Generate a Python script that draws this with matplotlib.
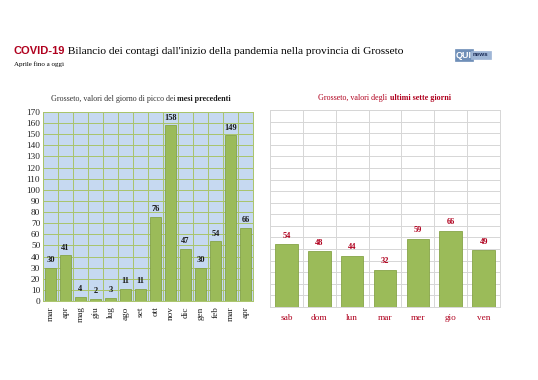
import numpy as np
import matplotlib
matplotlib.use("Agg")
import matplotlib.pyplot as plt

# ── data ─────────────────────────────────────────────────────────────────────
MONTHS = ["mar", "apr", "mag", "giu", "lug", "ago", "set", "ott", "nov",
          "dic", "gen", "feb", "mar", "apr"]
MONTH_PEAKS = [30, 41, 4, 2, 3, 11, 11, 76, 158, 47, 30, 54, 149, 66]

DAYS = ["sab", "dom", "lun", "mar", "mer", "gio", "ven"]
DAY_VALUES = [54, 48, 44, 32, 59, 66, 49]

Y_MAX = 170
Y_TICKS = list(range(0, 171, 10))

# ── styles ───────────────────────────────────────────────────────────────────
SERIF = ["Liberation Serif", "DejaVu Serif"]
SANS = ["Liberation Sans", "DejaVu Sans"]
BAR = "#9bbb59"
BAR_EDGE = "#86a447"
DARK_RED = "#b0001e"
PANEL_BLUE = "#c6d9f1"
GRID_GREEN = "#a9c46b"

plt.rcParams["font.family"] = SERIF

fig = plt.figure(figsize=(5.38, 3.8), dpi=100)
fig.patch.set_facecolor("white")

# ── left chart: monthly peaks ────────────────────────────────────────────────
axl = fig.add_axes([43 / 538, 1 - 301 / 380, 210 / 538, 189 / 380])
axl.set_facecolor(PANEL_BLUE)
x = np.arange(len(MONTHS))
axl.bar(x, MONTH_PEAKS, width=0.72, color=BAR, edgecolor=BAR_EDGE, linewidth=0.6, zorder=3)
for xi, v in zip(x, MONTH_PEAKS):
    axl.text(xi, v + 3, str(v), ha="center", va="bottom", fontsize=6,
             fontweight="bold", color="#1a1a1a", zorder=4)
axl.set_xlim(-0.5, len(MONTHS) - 0.5)
axl.set_ylim(0, Y_MAX)
axl.set_yticks(Y_TICKS)
axl.set_yticklabels([str(t) for t in Y_TICKS], fontsize=6.7, color="#222222")
axl.set_xticks(x)
axl.set_xticklabels(MONTHS, rotation=90, fontsize=6.7, color="#222222")
axl.set_xticks(np.arange(-0.5, len(MONTHS), 1), minor=True)
axl.grid(axis="y", color=GRID_GREEN, linewidth=0.7, zorder=0)
axl.grid(axis="x", which="minor", color=GRID_GREEN, linewidth=0.7, zorder=0)
axl.tick_params(axis="both", which="both", length=0, pad=2)
axl.tick_params(axis="x", pad=4)
for s in axl.spines.values():
    s.set_color(GRID_GREEN)
    s.set_linewidth(0.7)

tl = axl.text(0.64, 1.05, "Grosseto, valori del giorno di picco dei ", transform=axl.transAxes,
              ha="right", va="bottom", fontsize=5.8, color="#333333")
axl.annotate("mesi precedenti", xy=(1, 0), xycoords=tl, va="bottom", ha="left",
             fontsize=5.8, fontweight="bold", color="#1a1a1a", annotation_clip=False)

# ── right chart: last seven days ─────────────────────────────────────────────
axr = fig.add_axes([270 / 538, 1 - 307 / 380, 230 / 538, 197 / 380])
axr.set_facecolor("white")
xd = np.arange(len(DAYS))
axr.bar(xd, DAY_VALUES, width=0.69, color=BAR, edgecolor=BAR_EDGE, linewidth=0.6, zorder=3)
for xi, v in zip(xd, DAY_VALUES):
    axr.text(xi, v + 4, str(v), ha="center", va="bottom", fontsize=6,
             fontweight="bold", color=DARK_RED, zorder=4)
axr.set_xlim(-0.5, len(DAYS) - 0.5)
axr.set_ylim(0, Y_MAX)
axr.set_yticks(Y_TICKS)
axr.set_yticklabels([])
axr.set_xticks(xd)
axr.set_xticklabels(DAYS, fontsize=6.7, color=DARK_RED)
axr.set_xticks(np.arange(-0.5, len(DAYS), 1), minor=True)
axr.grid(axis="y", color="#d6d6d6", linewidth=0.7, zorder=0)
axr.grid(axis="x", which="minor", color="#d6d6d6", linewidth=0.7, zorder=0)
axr.tick_params(axis="both", which="both", length=0, pad=5)
for s in axr.spines.values():
    s.set_color("#d6d6d6")
    s.set_linewidth(0.7)

tr = axr.text(0.52, 1.04, "Grosseto, valori degli ", transform=axr.transAxes,
              ha="right", va="bottom", fontsize=5.8, color=DARK_RED)
axr.annotate("ultimi sette giorni", xy=(1, 0), xycoords=tr, va="bottom", ha="left",
             fontsize=5.8, fontweight="bold", color=DARK_RED, annotation_clip=False)

# ── header ───────────────────────────────────────────────────────────────────
t1 = fig.text(14 / 538, 1 - 54 / 380, "COVID-19", family=SANS, fontweight="bold",
              fontsize=8, color=DARK_RED, va="baseline")
axl.annotate(" Bilancio dei contagi dall'inizio della pandemia nella provincia di Grosseto",
             xy=(1, 0), xycoords=t1, va="bottom", ha="left",
             fontsize=8.2, color="black", annotation_clip=False)
fig.text(14 / 538, 1 - 66 / 380, "Aprile fino a oggi", fontsize=5, color="black")

# logo
fig.text(472 / 538, 1 - 55 / 380, "QUI", family=SANS, fontweight="bold",
         fontsize=6.5, color="white", ha="right", va="center",
         bbox=dict(boxstyle="square,pad=0.15", fc="#6f8fb8", ec="#6f8fb8", lw=0.5))
fig.text(473 / 538, 1 - 55 / 380, "news", family=SANS, fontweight="bold",
         fontsize=4.5, color="#1a2b55", ha="left", va="center",
         bbox=dict(boxstyle="square,pad=0.3", fc="#9fb6d6", ec="#9fb6d6", lw=0.5))

fig.savefig("out.png", dpi=100)
